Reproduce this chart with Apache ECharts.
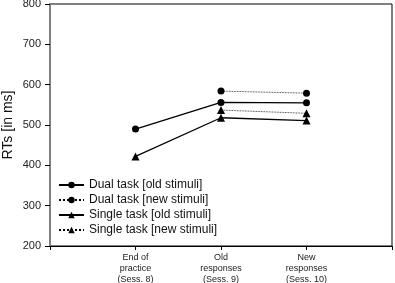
<!DOCTYPE html>
<html>
<head>
<meta charset="utf-8">
<script src="https://cdn.jsdelivr.net/npm/echarts@6/dist/echarts.min.js"></script>
<style>
  html, body { margin: 0; padding: 0; background: #fff; }
  #main { width: 395px; height: 283px; }
</style>
</head>
<body>
<div id="main"></div>
<script>
// x positions 1..3, axis runs 0..4
var categories = ['End of\npractice\n(Sess. 8)', 'Old\nresponses\n(Sess. 9)', 'New\nresponses\n(Sess. 10)'];
var dualOld = [490, 556, 555];
var dualNew = [null, 584, 579];
var singleOld = [422, 518, 511];
var singleNew = [null, 537, 529];
var yTicks = [200, 300, 400, 500, 600, 700, 800];

function pts(arr) {
  var out = [];
  arr.forEach(function (v, i) { if (v != null) out.push([i + 1, v]); });
  return out;
}

function mkSeries(name, data, symbol, dotted) {
  return {
    name: name,
    type: 'line',
    data: pts(data),
    symbol: symbol,
    symbolSize: symbol === 'circle' ? 7 : 8,
    itemStyle: { color: '#000' },
    lineStyle: { color: '#000', width: dotted ? 0.8 : 1.3, type: dotted ? 'dotted' : 'solid' },
    animation: false
  };
}

var chart = echarts.init(document.getElementById('main'));
chart.setOption({
  backgroundColor: '#fff',
  textStyle: { fontFamily: 'Liberation Sans, Arial, sans-serif' },
  grid: {
    left: 50, right: 3, top: 4, bottom: 37,
    outerBoundsMode: 'none', containLabel: false,
    show: true, borderColor: '#000', borderWidth: 1
  },
  legend: {
    orient: 'vertical',
    left: 58,
    top: 179,
    itemWidth: 25,
    itemHeight: 8,
    itemGap: 3,
    padding: 0,
    textStyle: { fontSize: 12, color: '#111' },
    data: ['Dual task [old stimuli]', 'Dual task [new stimuli]', 'Single task [old stimuli]', 'Single task [new stimuli]']
  },
  xAxis: {
    type: 'value',
    min: 0,
    max: 4,
    interval: 1,
    axisLine: { lineStyle: { color: '#000', width: 1 } },
    axisTick: { length: 4, lineStyle: { color: '#000' } },
    splitLine: { show: false },
    axisLabel: {
      fontSize: 9,
      color: '#222',
      lineHeight: 11,
      margin: 6,
      formatter: function (v) { return categories[v - 1] || ''; }
    }
  },
  yAxis: {
    type: 'value',
    min: yTicks[0],
    max: yTicks[yTicks.length - 1],
    interval: 100,
    name: 'RTs [in ms]',
    nameLocation: 'middle',
    nameGap: 35,
    nameMoveOverlap: false,
    nameTextStyle: { fontSize: 14, color: '#111' },
    axisLine: { show: true, lineStyle: { color: '#808080', width: 2 } },
    axisTick: { show: true, length: 5, lineStyle: { color: '#000' } },
    splitLine: { show: false },
    axisLabel: { fontSize: 11, color: '#222', margin: 9 }
  },
  series: [
    mkSeries('Dual task [old stimuli]', dualOld, 'circle', false),
    mkSeries('Dual task [new stimuli]', dualNew, 'circle', true),
    mkSeries('Single task [old stimuli]', singleOld, 'triangle', false),
    mkSeries('Single task [new stimuli]', singleNew, 'triangle', true)
  ]
});
</script>
</body>
</html>
